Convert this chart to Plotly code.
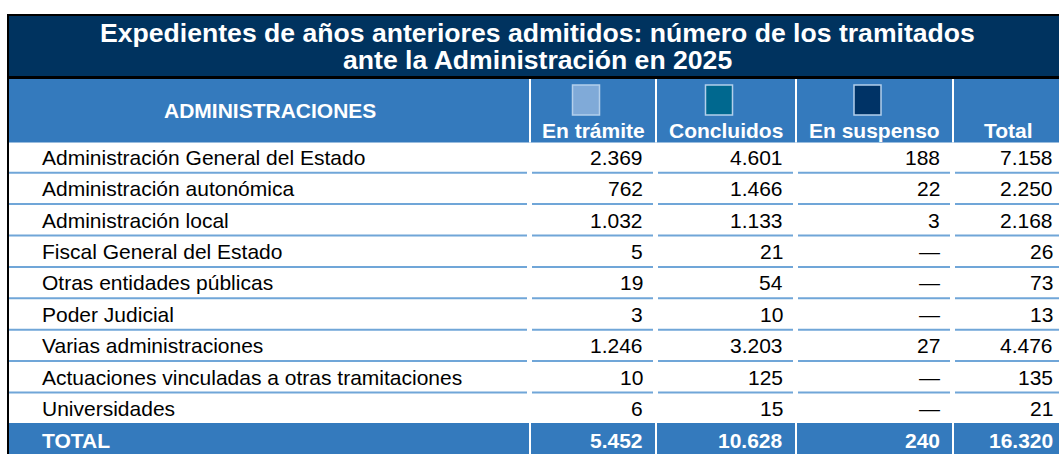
import plotly.graph_objects as go

# ---------------- data ----------------
title_lines = ["Expedientes de años anteriores admitidos: número de los tramitados",
               "ante la Administración en 2025"]
col_header_first = "ADMINISTRACIONES"
col_headers = ["En trámite", "Concluidos", "En suspenso", "Total"]
legend_colors = ["#80aad8", "#00688f", "#003366", None]

rows = ["Administración General del Estado",
        "Administración autonómica",
        "Administración local",
        "Fiscal General del Estado",
        "Otras entidades públicas",
        "Poder Judicial",
        "Varias administraciones",
        "Actuaciones vinculadas a otras tramitaciones",
        "Universidades"]
en_tramite = [2369, 762, 1032, 5, 19, 3, 1246, 10, 6]
concluidos = [4601, 1466, 1133, 21, 54, 10, 3203, 125, 15]
en_suspenso = [188, 22, 3, None, None, None, 27, None, None]
total = [7158, 2250, 2168, 26, 73, 13, 4476, 135, 21]
total_label = "TOTAL"
total_row = [5452, 10628, 240, 16320]

# ---------------- style / geometry ----------------
W, H = 1059, 454
NAVY = "#00335f"
BLUE = "#347abd"
SEP = "#70a6d8"
FONT = "Liberation Sans, Arial, sans-serif"
edges = [9, 530, 656, 796, 953, 1066]
row_top = 141.5
row_h = 31.4
data_fs = 21
head_fs = 21
title_fs = 26.6


def fmt(v):
    if v is None:
        return "—"
    return f"{v:,}".replace(",", ".")


fig = go.Figure()
shapes = []
annotations = []


def rect(x0, x1, y0, y1, color, line_color=None, lw=0):
    shapes.append(dict(type="rect", xref="x", yref="y", x0=x0, x1=x1, y0=y0, y1=y1,
                       fillcolor=color, line=dict(color=line_color or color, width=lw),
                       layer="above"))


# bands
rect(9, W, 16, 76, NAVY)
rect(7, W, 76, 79, "black")
rect(7, W, 14, 16, "black")
rect(9, W, 79, 142.5, BLUE)
n = len(rows)
total_y0 = row_top + row_h * n - 1
rect(9, W, total_y0, H + 5, BLUE)
rect(7, 9, 14, H + 5, "black")

# white column separators in header and total row
for e in edges[1:-1]:
    rect(e - 1, e + 1, 79, 142.5, "white")
    rect(e - 1, e + 1, total_y0, H + 5, "white")

# row separators
for i in range(1, n):
    yb = row_top + row_h * i
    for c in range(len(edges) - 1):
        x0 = edges[c] + (0 if c == 0 else 2)
        x1 = edges[c + 1] - 3
        rect(x0, min(x1, W), yb - 1.2, yb + 0.8, SEP)

# title
for k, t in enumerate(title_lines):
    annotations.append(dict(x=537, y=32.5 + 27.5 * k, xref="x", yref="y", text=f"<b>{t}</b>",
                            showarrow=False, xanchor="center", yanchor="middle",
                            font=dict(family=FONT, size=title_fs, color="white")))

# header
annotations.append(dict(x=(edges[0] + edges[1]) / 2, y=110, xref="x", yref="y",
                        text=f"<b>{col_header_first}</b>", showarrow=False,
                        xanchor="center", yanchor="middle",
                        font=dict(family=FONT, size=head_fs, color="white")))
for c, (h, lc) in enumerate(zip(col_headers, legend_colors)):
    cx = (edges[c + 1] + edges[c + 2]) / 2
    if c == 3:
        cx = (edges[c + 1] + W) / 2 + 2
    annotations.append(dict(x=cx, y=130, xref="x", yref="y", text=f"<b>{h}</b>",
                            showarrow=False, xanchor="center", yanchor="middle",
                            font=dict(family=FONT, size=head_fs, color="white")))
    if lc:
        sx = cx - 7
        rect(sx - 13.5, sx + 13.5, 85, 115, lc, "#b3cfeb", 1.5)

# body
cols = [en_tramite, concluidos, en_suspenso, total]
for i, name in enumerate(rows):
    yc = row_top + row_h * (i + 0.5)
    annotations.append(dict(x=40, y=yc, xref="x", yref="y", text=name, showarrow=False,
                            xanchor="left", yanchor="middle",
                            font=dict(family=FONT, size=data_fs, color="black")))
    for c, col in enumerate(cols):
        annotations.append(dict(x=edges[c + 2] - 11, y=yc, xref="x", yref="y",
                                text=fmt(col[i]), showarrow=False,
                                xanchor="right", yanchor="middle",
                                font=dict(family=FONT, size=data_fs, color="black")))

# total row
yc = row_top + row_h * (n + 0.5) + 1
annotations.append(dict(x=40, y=yc, xref="x", yref="y", text=f"<b>{total_label}</b>",
                        showarrow=False, xanchor="left", yanchor="middle",
                        font=dict(family=FONT, size=data_fs, color="white")))
for c, v in enumerate(total_row):
    annotations.append(dict(x=edges[c + 2] - 11, y=yc, xref="x", yref="y",
                            text=f"<b>{fmt(v)}</b>", showarrow=False,
                            xanchor="right", yanchor="middle",
                            font=dict(family=FONT, size=data_fs, color="white")))

fig.update_layout(
    width=W, height=H, margin=dict(l=0, r=0, t=0, b=0),
    paper_bgcolor="white", plot_bgcolor="white",
    xaxis=dict(range=[0, W], visible=False, fixedrange=True),
    yaxis=dict(range=[H, 0], visible=False, fixedrange=True),
    shapes=shapes, annotations=annotations, showlegend=False,
)
fig.write_html("out.html", config={"displayModeBar": False},
               post_script="document.body.style.margin='0';document.body.style.overflow='hidden';")
